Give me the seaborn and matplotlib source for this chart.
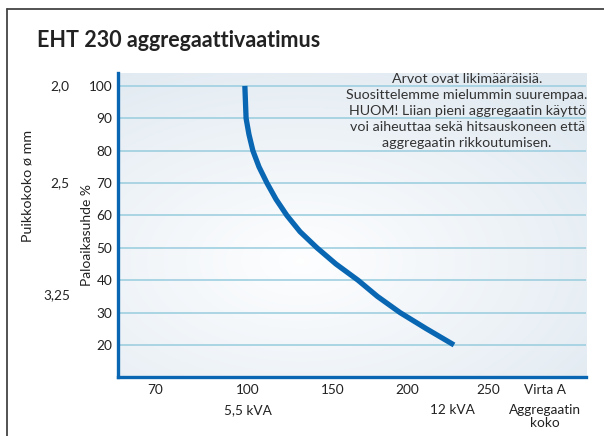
import numpy as np
import pandas as pd
import matplotlib
matplotlib.use('Agg')
import matplotlib.pyplot as plt
import seaborn as sns
from matplotlib.lines import Line2D

# duty cycle (%) vs current (A)
duty = [100, 95, 90, 85, 80, 75, 70, 65, 60, 55, 50, 45, 40, 35, 30, 25, 20]
current = [99.0, 99.2, 99.4, 100.6, 102.9, 106.5, 111.2, 116.5, 122.9, 130.6,
           140.6, 152.0, 166.9, 180.0, 195.3, 212.0, 229.0]

x_ticks = [70, 100, 150, 200, 250]
x_tick_labels = ['70', '100', '150', '200', '250']
y_ticks = [20, 30, 40, 50, 60, 70, 80, 90, 100]

gen_labels = ['5,5 kVA', '12 kVA', 'Aggregaatin\nkoko']
gen_pos = [100, 228, 285]
rod_labels = ['2,0', '2,5', '3,25']
rod_pos = [100, 70, 35.5]

note = ("Arvot ovat likimääräisiä.\n"
        "Suosittelemme mielummin suurempaa.\n"
        "HUOM! Liian pieni aggregaatin käyttö\n"
        "voi aiheuttaa sekä hitsauskoneen että\n"
        "aggregaatin rikkoutumisen.")

df = pd.DataFrame({'current': current, 'duty': duty})

sns.set_style('white')
plt.rcParams['font.family'] = ['Lato', 'DejaVu Sans']

BLUE = '#0866b2'
GRID = '#9fcfe0'
TXT = '#222222'

# hand-drawn chart: the current axis is not evenly spaced
knot_a = np.array([0, 70, 100, 150, 200, 250, 400])
knot_p = np.array([-62, 155, 248, 333, 407, 488, 731])


def fwd(x):
    return np.interp(x, knot_a, knot_p)


def inv(p):
    return np.interp(p, knot_p, knot_a)


fig = plt.figure(figsize=(6.04, 4.36), dpi=100)
pos = [0.1954, 0.1353, 0.7749, 0.6973]

# soft radial background
bg = fig.add_axes(pos, zorder=0)
yy, xx = np.mgrid[0:1:200j, 0:1:300j]
r = np.sqrt(((xx - 0.39) / 1.1) ** 2 + (yy - 0.62) ** 2)
r = np.clip(r / 0.75, 0, 1)
c0 = np.array([0.995, 0.997, 1.0])
c1 = np.array([0.88, 0.915, 0.945])
img = c0[None, None, :] * (1 - r[..., None]) + c1[None, None, :] * r[..., None]
bg.imshow(img, extent=[0, 1, 0, 1], aspect='auto', origin='upper')
bg.set_axis_off()

ax = fig.add_axes(pos, zorder=1)
ax.patch.set_alpha(0)
ax.set_xscale('function', functions=(fwd, inv))
ax.set_xlim(58.1, 310.5)
ax.set_ylim(10.1, 104)

for v in y_ticks:
    ax.axhline(v, color=GRID, lw=1.2, zorder=1)

sns.lineplot(data=df, x='current', y='duty', sort=False, color=BLUE, lw=3.8,
             ax=ax, zorder=3, solid_capstyle='butt')

ax.set_xticks(x_ticks + [285.2])
ax.set_xticklabels(x_tick_labels + ['Virta A'])
ax.set_yticks(y_ticks)
ax.set_yticklabels([str(v) for v in y_ticks])
ax.tick_params(axis='both', length=0, labelsize=9.8, labelcolor=TXT)
ax.tick_params(axis='x', pad=5)
ax.tick_params(axis='y', pad=4)
ax.set_xlabel('')
ax.set_ylabel('')

for side in ['top', 'right']:
    ax.spines[side].set_visible(False)
for side in ['left', 'bottom']:
    ax.spines[side].set_color(BLUE)
    ax.spines[side].set_linewidth(2.4)

xt = ax.get_xaxis_transform()
for lab, x in zip(gen_labels, gen_pos):
    ax.text(x, -0.088, lab, transform=xt, ha='center', va='top', fontsize=9.8,
            color=TXT, linespacing=1.15)

yt = ax.get_yaxis_transform()
for lab, y in zip(rod_labels, rod_pos):
    ax.text(-0.103, y, lab, transform=yt, ha='right', va='center',
            fontsize=9.8, color=TXT)

ax.text(-0.066, 54, 'Paloaikasuhde %', transform=yt, rotation=90,
        ha='center', va='center', fontsize=10, color=TXT)
ax.text(-0.194, 69, 'Puikkokoko ø mm', transform=yt, rotation=90,
        ha='center', va='center', fontsize=10.3, color=TXT)

ax.text(0.746, 1.0, note, transform=ax.transAxes, ha='center', va='top',
        fontsize=10.3, color='#333333', linespacing=1.4)

fig.text(0.061, 0.908, 'EHT 230 aggregaattivaatimus', ha='left', va='center',
         fontsize=15.5, fontweight='bold', color=TXT)

# page frame (top and left edge)
fig.add_artist(Line2D([0.0115, 0.0115], [0.0, 0.979], color='#444444', lw=1.3,
                      transform=fig.transFigure))
fig.add_artist(Line2D([0.0115, 1.0], [0.979, 0.979], color='#444444', lw=1.3,
                      transform=fig.transFigure))

fig.savefig('out.png', dpi=100)
